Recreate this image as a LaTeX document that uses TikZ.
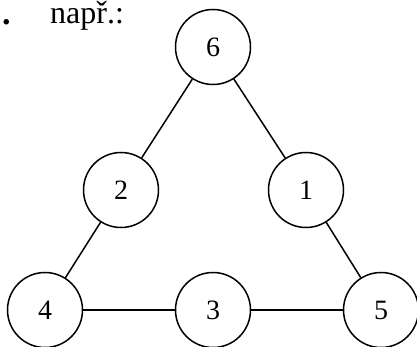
\documentclass[tikz,border=0pt]{standalone}
\usepackage{fontspec}
\setmainfont{Liberation Serif}
\begin{document}
\begin{tikzpicture}[x=1pt,y=-1pt,
  vertex/.style={draw,circle,line width=1.5pt,minimum size=75pt,inner sep=0pt,font=\fontsize{28}{28}\selectfont},
  edge/.style={draw,line width=1.5pt,-}]
\useasboundingbox (0,0) rectangle (417,347);

\node[anchor=base west,inner sep=0pt,font=\fontsize{34}{34}\selectfont\bfseries] (dot) at (2,25) {.};
\node[anchor=base west,inner sep=0pt,font=\fontsize{32}{32}\selectfont] (label) at (50,24) {např.:};

\node[vertex] (n6) at (213,47) {6};
\node[vertex] (n2) at (121,190) {2};
\node[vertex] (n1) at (306,190) {1};
\node[vertex] (n4) at (45,310) {4};
\node[vertex] (n3) at (213,310) {3};
\node[vertex] (n5) at (381,310) {5};

\path[edge] (n6) -- (n2);
\path[edge] (n6) -- (n1);
\path[edge] (n2) -- (n4);
\path[edge] (n1) -- (n5);
\path[edge] (n4) -- (n3);
\path[edge] (n3) -- (n5);

\end{tikzpicture}
\end{document}
